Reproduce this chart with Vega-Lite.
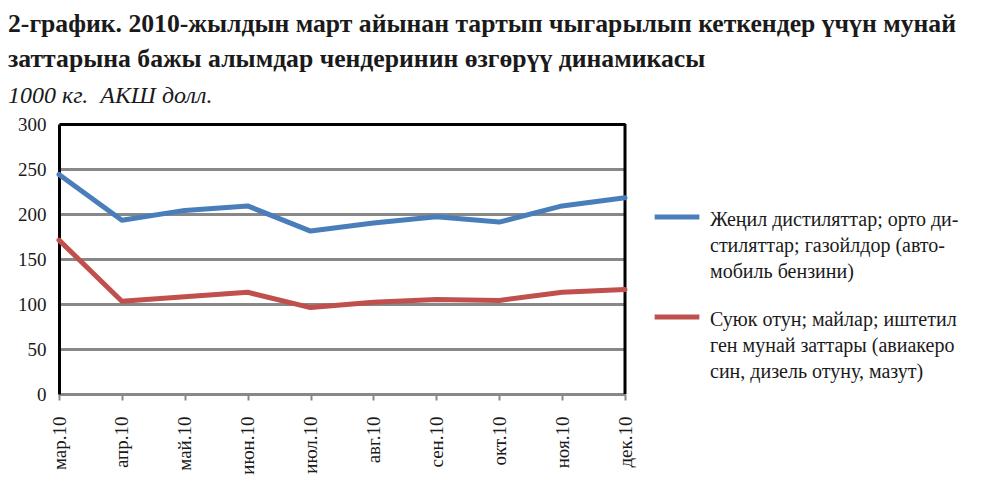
{
  "$schema": "https://vega.github.io/schema/vega-lite/v6.json",
  "width": 566,
  "height": 270,
  "autosize": "none",
  "padding": {"left": 59, "top": 124, "right": 367, "bottom": 97},
  "background": "white",
  "config": {
    "font": "Liberation Serif",
    "view": {"stroke": null},
    "axis": {"labelFont": "Liberation Serif"},
    "legend": {"labelFont": "Liberation Serif"}
  },
  "title": {
    "text": ["2-график. 2010-жылдын март айынан тартып чыгарылып кеткендер үчүн мунай", "заттарына бажы алымдар чендеринин өзгөрүү динамикасы"],
    "subtitle": "1000 кг.\u00a0 АКШ долл.",
    "anchor": "start",
    "frame": "group",
    "dx": -51,
    "offset": 6,
    "font": "Liberation Serif",
    "fontSize": 25.7,
    "fontWeight": "bold",
    "lineHeight": 35,
    "color": "#1a1a1a",
    "subtitleFont": "Liberation Serif",
    "subtitleFontSize": 24,
    "subtitleFontStyle": "italic",
    "subtitleColor": "#1a1a1a",
    "subtitlePadding": 11
  },
  "data": {
    "values": [
      {"month": "мар.10", "series": "Жеңил дистиляттар; орто ди-\nстиляттар; газойлдор (авто-\nмобиль бензини)", "value": 244},
      {"month": "апр.10", "series": "Жеңил дистиляттар; орто ди-\nстиляттар; газойлдор (авто-\nмобиль бензини)", "value": 193},
      {"month": "май.10", "series": "Жеңил дистиляттар; орто ди-\nстиляттар; газойлдор (авто-\nмобиль бензини)", "value": 204},
      {"month": "июн.10", "series": "Жеңил дистиляттар; орто ди-\nстиляттар; газойлдор (авто-\nмобиль бензини)", "value": 209},
      {"month": "июл.10", "series": "Жеңил дистиляттар; орто ди-\nстиляттар; газойлдор (авто-\nмобиль бензини)", "value": 181},
      {"month": "авг.10", "series": "Жеңил дистиляттар; орто ди-\nстиляттар; газойлдор (авто-\nмобиль бензини)", "value": 190},
      {"month": "сен.10", "series": "Жеңил дистиляттар; орто ди-\nстиляттар; газойлдор (авто-\nмобиль бензини)", "value": 197},
      {"month": "окт.10", "series": "Жеңил дистиляттар; орто ди-\nстиляттар; газойлдор (авто-\nмобиль бензини)", "value": 191},
      {"month": "ноя.10", "series": "Жеңил дистиляттар; орто ди-\nстиляттар; газойлдор (авто-\nмобиль бензини)", "value": 209},
      {"month": "дек.10", "series": "Жеңил дистиляттар; орто ди-\nстиляттар; газойлдор (авто-\nмобиль бензини)", "value": 218},
      {"month": "мар.10", "series": "Суюк отун; майлар; иштетил\nген мунай заттары (авиакеро\nсин, дизель отуну, мазут)", "value": 171},
      {"month": "апр.10", "series": "Суюк отун; майлар; иштетил\nген мунай заттары (авиакеро\nсин, дизель отуну, мазут)", "value": 103},
      {"month": "май.10", "series": "Суюк отун; майлар; иштетил\nген мунай заттары (авиакеро\nсин, дизель отуну, мазут)", "value": 108},
      {"month": "июн.10", "series": "Суюк отун; майлар; иштетил\nген мунай заттары (авиакеро\nсин, дизель отуну, мазут)", "value": 113},
      {"month": "июл.10", "series": "Суюк отун; майлар; иштетил\nген мунай заттары (авиакеро\nсин, дизель отуну, мазут)", "value": 96},
      {"month": "авг.10", "series": "Суюк отун; майлар; иштетил\nген мунай заттары (авиакеро\nсин, дизель отуну, мазут)", "value": 102},
      {"month": "сен.10", "series": "Суюк отун; майлар; иштетил\nген мунай заттары (авиакеро\nсин, дизель отуну, мазут)", "value": 105},
      {"month": "окт.10", "series": "Суюк отун; майлар; иштетил\nген мунай заттары (авиакеро\nсин, дизель отуну, мазут)", "value": 104},
      {"month": "ноя.10", "series": "Суюк отун; майлар; иштетил\nген мунай заттары (авиакеро\nсин, дизель отуну, мазут)", "value": 113},
      {"month": "дек.10", "series": "Суюк отун; майлар; иштетил\nген мунай заттары (авиакеро\nсин, дизель отуну, мазут)", "value": 116}
    ]
  },
  "layer": [
    {
      "mark": {"type": "rule", "color": "black", "strokeWidth": 3},
      "data": {"values": [{"month": "дек.10", "lo": 0, "hi": 300}]},
      "encoding": {
        "x": {
          "field": "month",
          "type": "ordinal",
          "sort": ["мар.10", "апр.10", "май.10", "июн.10", "июл.10", "авг.10", "сен.10", "окт.10", "ноя.10", "дек.10"]
        },
        "y": {"field": "lo", "type": "quantitative"},
        "y2": {"field": "hi"}
      }
    },
    {
      "mark": {"type": "line", "strokeWidth": 5, "strokeJoin": "round", "strokeCap": "round"},
      "encoding": {
        "x": {
          "field": "month",
          "type": "ordinal",
          "sort": ["мар.10", "апр.10", "май.10", "июн.10", "июл.10", "авг.10", "сен.10", "окт.10", "ноя.10", "дек.10"],
          "scale": {"type": "point", "padding": 0},
          "axis": {
            "title": null,
            "labelAngle": -90,
            "labelAlign": "right",
            "labelBaseline": "middle",
            "labelFont": "Liberation Serif",
            "labelFontSize": 19,
            "labelColor": "#1a1a1a",
            "labelPadding": 16,
            "domainColor": "#888888",
            "domainWidth": 3,
            "tickColor": "#888888",
            "tickWidth": 2,
            "tickSize": 6,
            "grid": false
          }
        },
        "y": {
          "field": "value",
          "type": "quantitative",
          "scale": {"domain": [0, 300]},
          "axis": {
            "title": null,
            "values": [0, 50, 100, 150, 200, 250, 300],
            "labelFont": "Liberation Serif",
            "labelFontSize": 19,
            "labelColor": "#1a1a1a",
            "labelPadding": 13,
            "ticks": false,
            "domainColor": "black",
            "domainWidth": 3,
            "grid": true,
            "gridColor": {"condition": {"test": "datum.value == 300", "value": "black"}, "value": "#888888"},
            "gridWidth": 3,
            "gridOpacity": 1
          }
        },
        "color": {
          "field": "series",
          "type": "nominal",
          "scale": {
            "domain": ["Жеңил дистиляттар; орто ди-\nстиляттар; газойлдор (авто-\nмобиль бензини)", "Суюк отун; майлар; иштетил\nген мунай заттары (авиакеро\nсин, дизель отуну, мазут)"],
            "range": ["#4a7ebb", "#c0504d"]
          },
          "legend": {
            "title": null,
            "orient": "none",
            "legendX": 593,
            "legendY": 68,
            "symbolType": "stroke",
            "symbolSize": 2000,
            "symbolStrokeWidth": 5,
            "labelFont": "Liberation Serif",
            "labelFontSize": 20,
            "labelColor": "#1a1a1a",
            "labelLimit": 400,
            "labelOffset": 8,
            "labelBaseline": "top",
            "labelExpr": "split(datum.label, '\\n')",
            "rowPadding": 10,
            "encode": {"labels": {"update": {"lineHeight": {"value": 26}, "dy": {"value": -7}}}}
          }
        }
      }
    }
  ]
}
